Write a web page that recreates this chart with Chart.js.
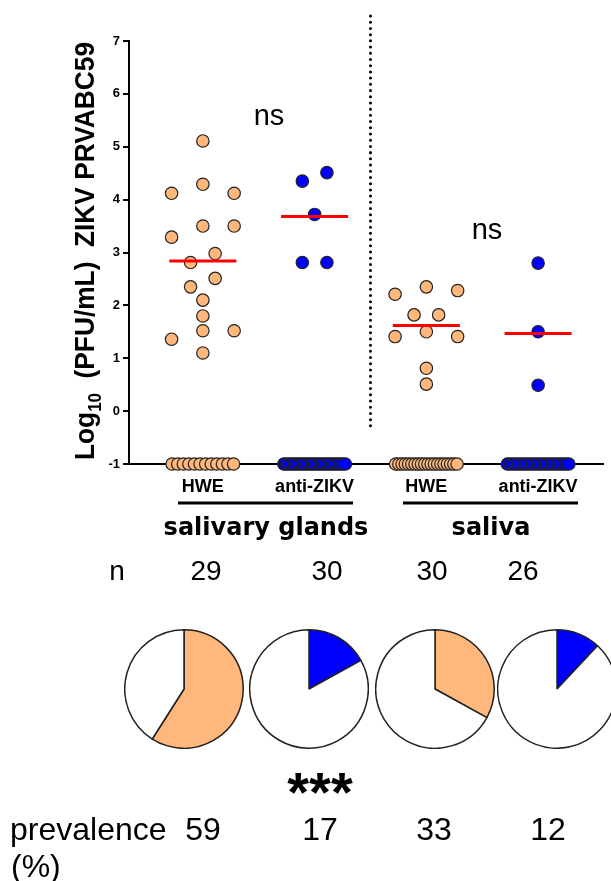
<!DOCTYPE html>
<html>
<head>
<meta charset="utf-8">
<script src="https://cdn.jsdelivr.net/npm/chart.js@4.4.1/dist/chart.umd.min.js"></script>
<style>
  html, body { margin: 0; padding: 0; width: 611px; height: 881px; overflow: hidden; background: #fff; }
  #main { position: absolute; left: 0; top: 0; }
  .pie { position: absolute; top: 629px; }
</style>
</head>
<body>
<canvas id="main" width="611" height="881"></canvas>
<canvas id="pie0" class="pie" width="120" height="120" style="left:124px"></canvas>
<canvas id="pie1" class="pie" width="120" height="120" style="left:249px"></canvas>
<canvas id="pie2" class="pie" width="120" height="120" style="left:375px"></canvas>
<canvas id="pie3" class="pie" width="120" height="120" style="left:497px"></canvas>
<script>
// groups along the x axis
const groups = ['HWE', 'anti-ZIKV', 'HWE', 'anti-ZIKV'];
const tissues = ['salivary glands', 'saliva'];
const nCounts = [29, 30, 30, 26];
const prevalence = [59, 17, 33, 12];
const yTicks = [-1, 0, 1, 2, 3, 4, 5, 6, 7];
const belowLimit = -1; // negatives are plotted at -1

// log10 titers of the positive samples, with the horizontal spread of each dot
const sgHwe = [5.11, 4.29, 4.12, 4.12, 3.50, 3.50, 3.29, 2.98, 2.81, 2.51, 2.35, 2.10, 1.80, 1.52, 1.52, 1.36, 1.10];
const sgHweJitter = [0, 0, -0.28, 0.28, 0, 0.28, -0.28, 0.11, -0.11, 0.11, -0.11, 0, 0, 0, 0.28, -0.28, 0];
const sgAnti = [4.51, 4.35, 3.72, 2.81, 2.81];
const sgAntiJitter = [0.11, -0.11, 0, -0.11, 0.11];
const salHwe = [2.35, 2.28, 2.21, 1.82, 1.82, 1.50, 1.41, 1.41, 0.81, 0.51];
const salHweJitter = [0, 0.28, -0.28, -0.11, 0.11, 0, -0.28, 0.28, 0, 0];
const salAnti = [2.80, 1.50, 0.49];
const salAntiJitter = [0, 0, 0];
const medians = [2.84, 3.68, 1.62, 1.47];

const ORANGE = '#FFB77B';
const BLUE = '#0000FF';
const groupColors = [ORANGE, BLUE, ORANGE, BLUE];
const groupValues = [sgHwe, sgAnti, salHwe, salAnti];
const groupJitter = [sgHweJitter, sgAntiJitter, salHweJitter, salAntiJitter];

const datasets = [];
groupValues.forEach((vals, i) => {
  const pts = vals.map((v, k) => ({ x: i + groupJitter[i][k], y: v }));
  // negatives spread along the axis line
  const neg = nCounts[i] - vals.length;
  for (let k = 0; k < neg; k++) {
    pts.push({ x: i - 0.275 + 0.55 * k / (neg - 1), y: belowLimit });
  }
  datasets.push({
    type: 'scatter',
    data: pts,
    backgroundColor: groupColors[i],
    borderColor: '#222',
    borderWidth: 1.2,
    pointRadius: 6.2,
    order: 1,
    clip: false
  });
  datasets.push({
    type: 'line',
    data: [{ x: i - 0.3, y: medians[i] }, { x: i + 0.3, y: medians[i] }],
    borderColor: '#FF0000',
    borderWidth: 3,
    pointRadius: 0,
    showLine: true,
    order: 0,
    clip: false
  });
});

const FONT = '"Liberation Sans", Arial, sans-serif';

const annotate = {
  id: 'annotate',
  afterDraw(chart) {
    const { ctx, scales: { x } } = chart;
    ctx.save();
    ctx.fillStyle = '#000';
    ctx.strokeStyle = '#000';

    // dotted divider between tissues
    const xd = x.getPixelForValue(1.5);
    ctx.lineWidth = 3;
    ctx.lineCap = 'round';
    ctx.setLineDash([0.01, 6.2]);
    ctx.beginPath();
    ctx.moveTo(xd, 16);
    ctx.lineTo(xd, 428);
    ctx.stroke();
    ctx.setLineDash([]);
    ctx.lineCap = 'butt';

    // y title with subscript
    ctx.save();
    const big = 'bold 28px ' + FONT, small = 'bold 18px ' + FONT;
    const part1 = 'Log', part2 = '10', part3 = '  (PFU/mL)  ZIKV PRVABC59';
    ctx.font = big;
    const w1 = ctx.measureText(part1).width, w3 = ctx.measureText(part3).width;
    ctx.font = small;
    const w2 = ctx.measureText(part2).width;
    const total = w1 + w2 + w3;
    ctx.translate(94, 251);
    ctx.rotate(-Math.PI / 2);
    ctx.scale(418 / total, 1);
    ctx.textAlign = 'left';
    ctx.textBaseline = 'alphabetic';
    let px = -total / 2;
    ctx.font = big; ctx.fillText(part1, px, 0); px += w1;
    ctx.font = small; ctx.fillText(part2, px, 7); px += w2;
    ctx.font = big; ctx.fillText(part3, px, 0);
    ctx.restore();

    ctx.textAlign = 'center';
    ctx.textBaseline = 'alphabetic';

    // ns
    ctx.font = '29px ' + FONT;
    ctx.fillText('ns', 269, 125);
    ctx.fillText('ns', 487, 239);

    // tissue brackets
    ctx.lineWidth = 3;
    ctx.beginPath();
    ctx.moveTo(178, 503); ctx.lineTo(353, 503);
    ctx.moveTo(403, 503); ctx.lineTo(578, 503);
    ctx.stroke();
    ctx.font = 'bold 24px "DejaVu Sans", sans-serif';
    ctx.fillText(tissues[0], 266, 535);
    ctx.fillText(tissues[1], 491, 535);

    // n row
    ctx.font = '28px ' + FONT;
    ctx.fillText('n', 117, 580);
    const nX = [206, 327, 432, 523];
    nCounts.forEach((n, i) => ctx.fillText(String(n), nX[i], 580));

    // significance
    ctx.font = 'bold 56px ' + FONT;
    const m = ctx.measureText('***');
    const a = m.actualBoundingBoxAscent, d = m.actualBoundingBoxDescent;
    ctx.fillText('***', 320, 783 + (a - d) / 2);

    // prevalence row
    ctx.font = '32px ' + FONT;
    ctx.textAlign = 'left';
    ctx.fillText('prevalence', 10, 840);
    ctx.fillText('(%)', 11, 877);
    ctx.textAlign = 'center';
    const pX = [203, 320, 434, 548];
    prevalence.forEach((p, i) => ctx.fillText(String(p), pX[i], 840));

    ctx.restore();
  }
};

new Chart(document.getElementById('main'), {
  type: 'scatter',
  data: { datasets },
  options: {
    responsive: false,
    animation: false,
    events: [],
    layout: { padding: { top: 41, left: 0, right: 0, bottom: 381 } },
    plugins: { legend: { display: false }, tooltip: { enabled: false } },
    scales: {
      x: {
        type: 'linear',
        min: -0.661,
        max: 3.586,
        afterFit(s) { s.height = 36; },
        afterBuildTicks(s) { s.ticks = groups.map((g, i) => ({ value: i })); },
        ticks: {
          autoSkip: false,
          maxRotation: 0,
          padding: 12,
          color: '#000',
          font: { family: FONT, weight: 'bold', size: 18 },
          callback: (v, i) => groups[i]
        },
        grid: { display: true, drawOnChartArea: false, drawTicks: false },
        border: { color: '#000', width: 2 }
      },
      y: {
        min: yTicks[0],
        max: yTicks[yTicks.length - 1],
        afterFit(s) { s.width = 129; },
        afterBuildTicks(s) { s.ticks = yTicks.map(v => ({ value: v })); },
        ticks: {
          padding: 3,
          color: '#000',
          font: { family: FONT, weight: 'bold', size: 13 }
        },
        grid: { drawOnChartArea: false, drawTicks: true, tickLength: 6, color: '#000', lineWidth: 2 },
        border: { color: '#000', width: 2 }
      }
    }
  },
  plugins: [annotate]
});

// prevalence pies
prevalence.forEach((p, i) => {
  new Chart(document.getElementById('pie' + i), {
    type: 'pie',
    data: {
      labels: ['positive', 'negative'],
      datasets: [{
        data: [p, 100 - p],
        backgroundColor: [groupColors[i], '#FFFFFF'],
        borderColor: '#222',
        borderWidth: 1.5
      }]
    },
    options: {
      responsive: false,
      animation: false,
      events: [],
      layout: { padding: 0 },
      plugins: { legend: { display: false }, tooltip: { enabled: false } }
    }
  });
});
</script>
</body>
</html>
